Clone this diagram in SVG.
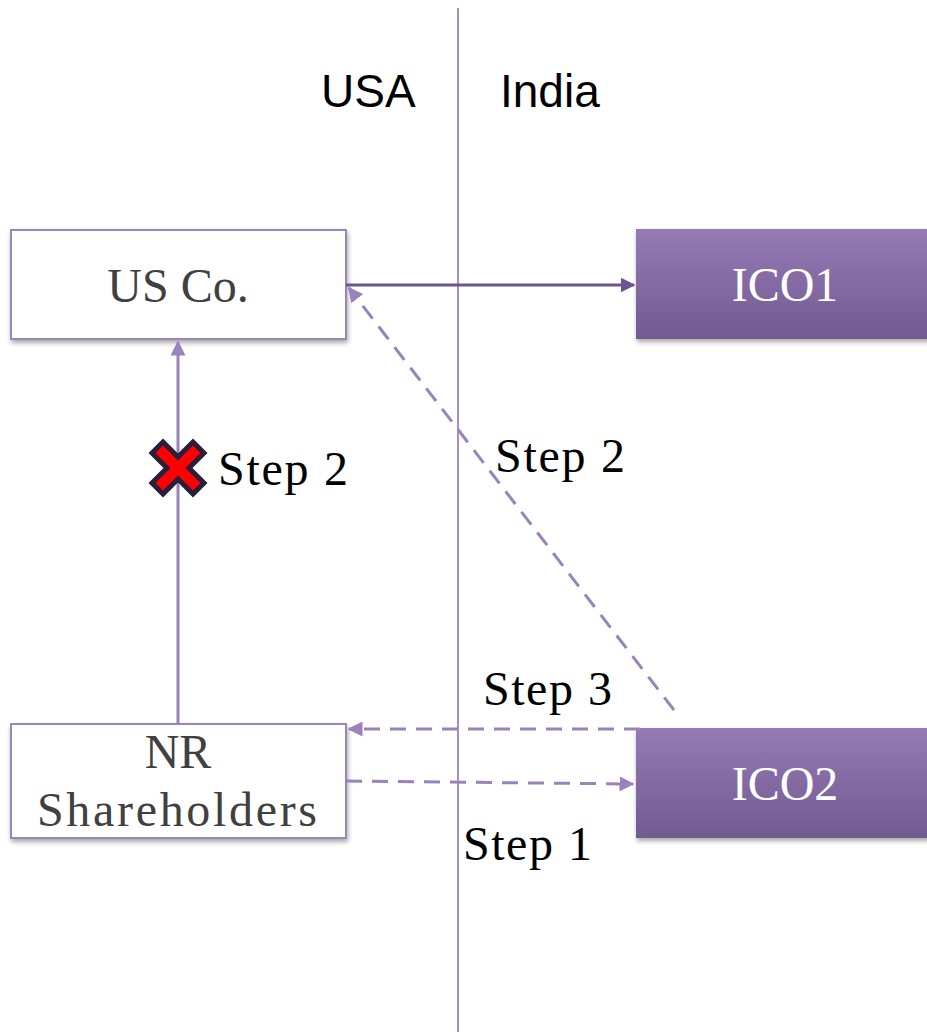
<svg xmlns="http://www.w3.org/2000/svg" width="927" height="1032" viewBox="0 0 927 1032">
  <style>
    .region { font-family: "Liberation Sans", Arial, sans-serif; font-size: 46px; fill: #000; }
    .label { font-family: "Liberation Serif", "DejaVu Serif", serif; font-size: 48px; }
    .step { fill: #000; }
    .dark { fill: #404040; }
    .light { fill: #ffffff; }
    .solid { stroke: #9a83bc; stroke-width: 3; fill: none; }
    .solid-dark { stroke: #6b5690; stroke-width: 3; fill: none; }
    .dashed { stroke: #9a83bc; stroke-width: 3; fill: none; stroke-dasharray: 16 10; }
    .white-box { fill: #ffffff; stroke: #9b85bd; stroke-width: 2; }
  </style>
  <defs>
    <linearGradient id="purpleFill" x1="0" y1="0" x2="0" y2="1">
      <stop offset="0" stop-color="#957ab5"/>
      <stop offset="1" stop-color="#725a91"/>
    </linearGradient>
    <filter id="shadow" x="-5%" y="-10%" width="115%" height="130%">
      <feGaussianBlur in="SourceAlpha" stdDeviation="2.5"/>
      <feOffset dx="1" dy="3" result="b"/>
      <feComponentTransfer><feFuncA type="linear" slope="0.35"/></feComponentTransfer>
      <feMerge><feMergeNode/><feMergeNode in="SourceGraphic"/></feMerge>
    </filter>
    <marker id="arrowLight" viewBox="0 0 10 10" refX="9" refY="5" markerWidth="5" markerHeight="5" orient="auto" markerUnits="strokeWidth">
      <path d="M0,0 L10,5 L0,10 z" fill="#9a83bc"/>
    </marker>
    <marker id="arrowDark" viewBox="0 0 10 10" refX="9" refY="5" markerWidth="5" markerHeight="5" orient="auto" markerUnits="strokeWidth">
      <path d="M0,0 L10,5 L0,10 z" fill="#6b5690"/>
    </marker>
  </defs>

  <rect width="927" height="1032" fill="#ffffff"/>

  <!-- border line between the two countries -->
  <g id="border">
    <line x1="458" y1="8" x2="458" y2="1032" stroke="#a391c2" stroke-width="2"/>
    <text class="region" x="321" y="107">USA</text>
    <text class="region" x="500" y="107">India</text>
  </g>

  <!-- entities -->
  <g id="usco">
    <rect class="white-box" x="11" y="230" width="335" height="109" filter="url(#shadow)"/>
    <text class="label dark" x="178" y="302" text-anchor="middle">US Co.</text>
  </g>
  <g id="ico1">
    <rect x="636" y="229" width="295" height="110" fill="url(#purpleFill)" filter="url(#shadow)"/>
    <text class="label light" x="785" y="301" text-anchor="middle">ICO1</text>
  </g>
  <g id="nr">
    <rect class="white-box" x="11" y="724" width="335" height="114" filter="url(#shadow)"/>
    <text class="label dark" x="178" y="768" text-anchor="middle">NR</text>
    <text class="label dark" x="37" y="826" textLength="280">Shareholders</text>
  </g>
  <g id="ico2">
    <rect x="636" y="728" width="295" height="110" fill="url(#purpleFill)" filter="url(#shadow)"/>
    <text class="label light" x="785" y="800" text-anchor="middle">ICO2</text>
  </g>

  <!-- connectors -->
  <g id="connectors">
    <line class="solid-dark" x1="346" y1="285" x2="634" y2="285" marker-end="url(#arrowDark)"/>
    <line class="solid" x1="178" y1="724" x2="178" y2="342" marker-end="url(#arrowLight)"/>
    <line class="dashed" x1="674" y1="710" x2="349" y2="288" marker-end="url(#arrowLight)"/>
    <line class="dashed" x1="640" y1="729" x2="349" y2="729" marker-end="url(#arrowLight)"/>
    <line class="dashed" x1="346" y1="781" x2="633" y2="784" marker-end="url(#arrowLight)"/>
  </g>

  <!-- blocked route marker -->
  <g id="blocked">
    <polygon points="-15,-26 0,-11 15,-26 26,-15 11,0 26,15 15,26 0,11 -15,26 -26,15 -11,0 -26,-15" transform="translate(178,468)" fill="#ff0000" stroke="#2a1e3a" stroke-width="5" stroke-linejoin="miter"/>
  </g>

  <!-- step labels -->
  <g id="steps">
    <text class="label step" x="218" y="485" textLength="130">Step 2</text>
    <text class="label step" x="495" y="472" textLength="130">Step 2</text>
    <text class="label step" x="483" y="705" textLength="129">Step 3</text>
    <text class="label step" x="463" y="860" textLength="129">Step 1</text>
  </g>
</svg>
